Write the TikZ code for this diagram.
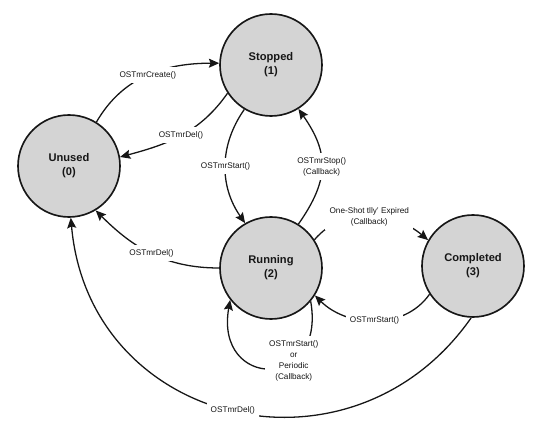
\documentclass[tikz,border=0pt]{standalone}
\usepackage{fontspec}
\setmainfont{Liberation Sans}
\setsansfont{Liberation Sans}
\usepackage{xcolor}
\usepackage{tikz}
\usetikzlibrary{arrows.meta}
\definecolor{StateInk}{HTML}{161616}
\definecolor{StateFill}{HTML}{D4D4D4}
\tikzset{
  figure/.style={font=\sffamily,text=StateInk,>={Stealth[length=3.1mm,width=2.7mm,inset=0.5mm]}},
  state/.style={circle,draw=StateInk,line width=1.4pt,fill=StateFill,minimum size=3.06cm,
    inner sep=0pt,align=center,font=\sffamily\bfseries\fontsize{9.5}{12}\selectfont},
  trans/.style={->,line width=1.1pt,draw=StateInk},
  lbl/.style={fill=white,inner sep=3.5pt,align=center,font=\sffamily\fontsize{7}{9.4}\selectfont},
}

\begin{document}
\begin{tikzpicture}[figure]
  \useasboundingbox (0,0) rectangle (16.62,12.9);

  \node[state] (U) at (2.07,7.92)  {Unused\\(0)};
  \node[state] (S) at (8.13,10.95) {Stopped\\(1)};
  \node[state] (R) at (8.13,4.86)  {Running\\(2)};
  \node[state] (C) at (14.19,4.92) {Completed\\(3)};

  \draw[trans] (U.58) to[out=60,in=180] node[lbl] (lCreate) {OSTmrCreate()} (S.178);
  \draw[trans] (S.213) to[out=235,in=15] node[lbl] (lDelS) {OSTmrDel()} (U.10);
  \draw[trans] (S.239) to[out=235,in=125] node[lbl] (lStart) {OSTmrStart()} (R.120);
  \draw[trans] (R.58) to[out=55,in=-55,looseness=1.2] node[lbl] (lStop) {OSTmrStop()\\(Callback)} (S.-58);
  \draw[trans] (R.33) to[out=50,in=140] node[lbl] (lExpired) {One-Shot tlly' Expired\\(Callback)} (C.150);
  \draw[trans] (C.213) to[out=235,in=-45] node[lbl] (lRestart) {OSTmrStart()} (R.-32);
  \draw[trans] (R.-40) to[out=-80,in=260,looseness=2.9]
    node[lbl,pos=0.33] (lPeriodic) {OSTmrStart()\\or\\Periodic\\(Callback)} (R.218);
  \draw[trans] (R.180) to[out=180,in=-45] node[lbl] (lDelR) {OSTmrDel()} (U.-59);
  \draw[trans] (C.-92) to[out=235,in=-85,looseness=1.3] node[lbl,pos=0.5] (lDelC) {OSTmrDel()} (U.-88);
\end{tikzpicture}
\end{document}
